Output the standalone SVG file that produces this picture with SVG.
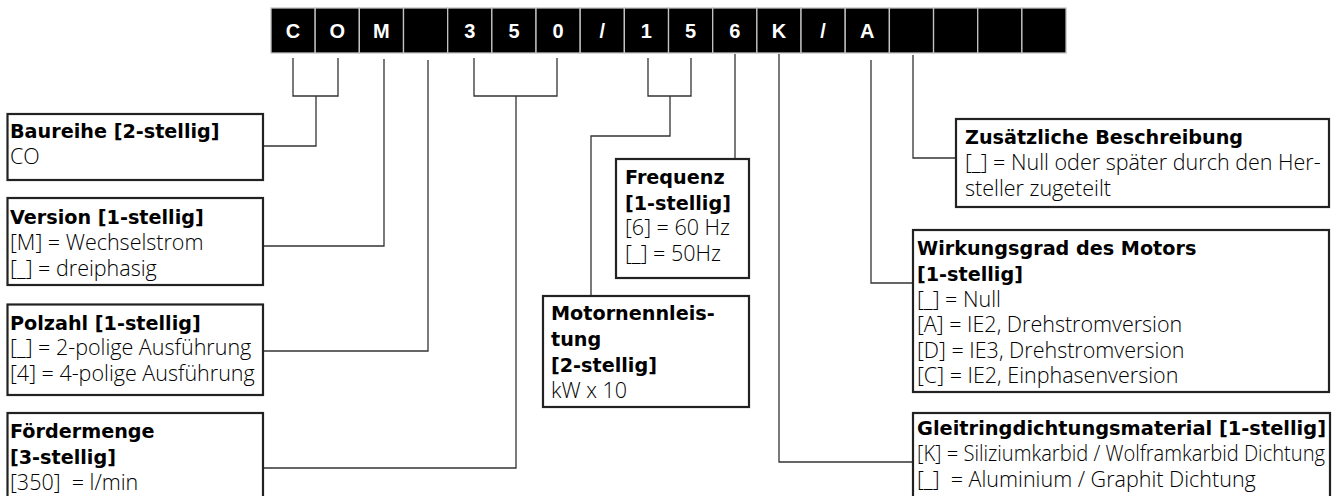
<svg xmlns="http://www.w3.org/2000/svg" width="1341" height="496" viewBox="0 0 1341 496">
<style>
.cell{fill:#000;stroke:#c4c4c4;stroke-width:1.3}
.code{font-family:"Liberation Sans",Arial,sans-serif;font-weight:bold;font-size:20px;fill:#fff;text-anchor:middle}
.box{fill:#fff;stroke:#222;stroke-width:2.2}
.t{font-family:"DejaVu Sans",sans-serif;font-weight:bold;font-size:19.2px;fill:#000;white-space:pre}
.b{font-family:"Open Sans",sans-serif;font-weight:300;font-size:21.5px;fill:#000;white-space:pre}
.con{fill:none;stroke:#333;stroke-width:1.3}
</style>
<rect width="1341" height="496" fill="#fff"/>
<g id="code">
<rect class="cell" x="271" y="8" width="44.17" height="45"/>
<rect class="cell" x="315.17" y="8" width="44.17" height="45"/>
<rect class="cell" x="359.34" y="8" width="44.17" height="45"/>
<rect class="cell" x="403.51" y="8" width="44.17" height="45"/>
<rect class="cell" x="447.68" y="8" width="44.17" height="45"/>
<rect class="cell" x="491.85" y="8" width="44.17" height="45"/>
<rect class="cell" x="536.02" y="8" width="44.17" height="45"/>
<rect class="cell" x="580.19" y="8" width="44.17" height="45"/>
<rect class="cell" x="624.36" y="8" width="44.17" height="45"/>
<rect class="cell" x="668.53" y="8" width="44.17" height="45"/>
<rect class="cell" x="712.7" y="8" width="44.17" height="45"/>
<rect class="cell" x="756.87" y="8" width="44.17" height="45"/>
<rect class="cell" x="801.04" y="8" width="44.17" height="45"/>
<rect class="cell" x="845.21" y="8" width="44.17" height="45"/>
<rect class="cell" x="889.38" y="8" width="44.17" height="45"/>
<rect class="cell" x="933.55" y="8" width="44.17" height="45"/>
<rect class="cell" x="977.72" y="8" width="44.17" height="45"/>
<rect class="cell" x="1021.89" y="8" width="44.17" height="45"/>
<text class="code" x="293.1" y="37.5">C</text>
<text class="code" x="337.3" y="37.5">O</text>
<text class="code" x="381.4" y="37.5">M</text>
<text class="code" x="469.8" y="37.5">3</text>
<text class="code" x="514" y="37.5">5</text>
<text class="code" x="558.1" y="37.5">0</text>
<text class="code" x="602.3" y="37.5">/</text>
<text class="code" x="646.4" y="37.5">1</text>
<text class="code" x="690.6" y="37.5">5</text>
<text class="code" x="734.8" y="37.5">6</text>
<text class="code" x="779" y="37.5">K</text>
<text class="code" x="823.1" y="37.5">/</text>
<text class="code" x="867.3" y="37.5">A</text>
</g>
<g id="connectors">
<path class="con" d="M293,58 V96 H338 V58 M316,96 V146 H263"/>
<path class="con" d="M384,59 V246 H263"/>
<path class="con" d="M428,60 V351 H263"/>
<path class="con" d="M474,58 V96 H557 V58 M516,96 V468 H263"/>
<path class="con" d="M648,58 V96 H691 V58 M670,96 V136 H591 V296"/>
<path class="con" d="M735,54 V159"/>
<path class="con" d="M779,54 V462 H913"/>
<path class="con" d="M871,60 V283 H913"/>
<path class="con" d="M913,55 V158 H956"/>
</g>
<g id="baureihe">
<rect class="box" x="7.5" y="114" width="255.5" height="66"/>
<text class="t" x="10" y="138">Baureihe [2-stellig]</text>
<text class="b" x="10" y="164">CO</text>
</g>
<g id="version">
<rect class="box" x="7.5" y="198" width="255.5" height="87"/>
<text class="t" x="10" y="224">Version [1-stellig]</text>
<text class="b" x="10" y="250">[M] = Wechselstrom</text>
<text class="b" x="10" y="275.5">[_] = dreiphasig</text>
</g>
<g id="polzahl">
<rect class="box" x="7.5" y="304.5" width="255.5" height="90.5"/>
<text class="t" x="10" y="329.5">Polzahl [1-stellig]</text>
<text class="b" x="10" y="355">[_] = 2-polige Ausführung</text>
<text class="b" x="10" y="381">[4] = 4-polige Ausführung</text>
</g>
<g id="foerdermenge">
<rect class="box" x="7.5" y="413" width="255.5" height="90"/>
<text class="t" x="10" y="437.5">Fördermenge</text>
<text class="t" x="10" y="463.5">[3-stellig]</text>
<text class="b" x="10" y="489.5">[350]  = l/min</text>
</g>
<g id="frequenz">
<rect class="box" x="616" y="159" width="133" height="119"/>
<text class="t" x="625" y="184">Frequenz</text>
<text class="t" x="625" y="209.5">[1-stellig]</text>
<text class="b" x="625" y="235">[6] = 60 Hz</text>
<text class="b" x="625" y="261">[_] = 50Hz</text>
</g>
<g id="motornennleistung">
<rect class="box" x="543" y="296" width="206" height="111"/>
<text class="t" x="551" y="320">Motornennleis-</text>
<text class="t" x="551" y="346">tung</text>
<text class="t" x="551" y="372">[2-stellig]</text>
<text class="b" x="551" y="398">kW x 10</text>
</g>
<g id="zusaetzliche">
<rect class="box" x="956" y="119" width="373" height="88"/>
<text class="t" x="965" y="144">Zusätzliche Beschreibung</text>
<text class="b" x="965" y="170">[_] = Null oder später durch den Her-</text>
<text class="b" x="965" y="196">steller zugeteilt</text>
</g>
<g id="wirkungsgrad">
<rect class="box" x="913" y="230" width="416" height="162"/>
<text class="t" x="917" y="255">Wirkungsgrad des Motors</text>
<text class="t" x="917" y="281">[1-stellig]</text>
<text class="b" x="917" y="306.5">[_] = Null</text>
<text class="b" x="917" y="332">[A] = IE2, Drehstromversion</text>
<text class="b" x="917" y="357.5">[D] = IE3, Drehstromversion</text>
<text class="b" x="917" y="383">[C] = IE2, Einphasenversion</text>
</g>
<g id="gleitring">
<rect class="box" x="913" y="413" width="417" height="90"/>
<text class="t" x="917" y="435" textLength="409" lengthAdjust="spacingAndGlyphs">Gleitringdichtungsmaterial [1-stellig]</text>
<text class="b" x="917" y="461" textLength="408" lengthAdjust="spacingAndGlyphs">[K] = Siliziumkarbid / Wolframkarbid Dichtung</text>
<text class="b" x="917" y="487">[_]  = Aluminium / Graphit Dichtung</text>
</g>
</svg>
